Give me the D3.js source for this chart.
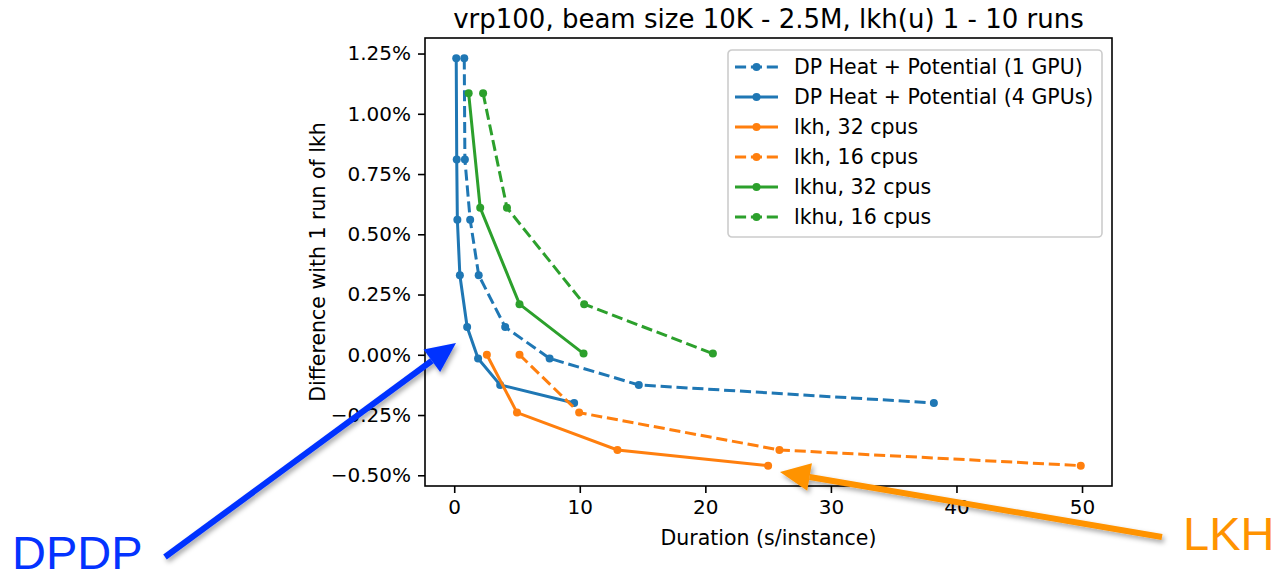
<!DOCTYPE html>
<html>
<head>
<meta charset="utf-8">
<script src="https://cdn.jsdelivr.net/npm/d3@7"></script>
<style>
  body { margin: 0; background: #fff; }
  svg { display: block; font-family: "DejaVu Sans", sans-serif; }
</style>
</head>
<body>
<svg id="chart" width="1280" height="574"></svg>
<script>
// Series (x: seconds per instance, y: % difference)
const dp1X = [0.8, 0.85, 1.27, 1.95, 4.06, 7.6, 14.7, 38.2];
const dp1Y = [1.23, 0.81, 0.56, 0.33, 0.115, -0.015, -0.125, -0.2];
const dp4X = [0.16, 0.2, 0.25, 0.45, 1.03, 1.9, 3.66, 9.55];
const dp4Y = [1.23, 0.81, 0.56, 0.33, 0.115, -0.015, -0.125, -0.2];
const lkh32X = [2.6, 5.0, 13.0, 25.0];
const lkh32Y = [0.0, -0.24, -0.395, -0.46];
const lkh16X = [5.2, 9.95, 25.9, 49.9];
const lkh16Y = [0.0, -0.24, -0.395, -0.46];
const lkhu32X = [1.15, 2.07, 5.2, 10.3];
const lkhu32Y = [1.085, 0.61, 0.21, 0.005];
const lkhu16X = [2.3, 4.2, 10.35, 20.6];
const lkhu16Y = [1.085, 0.61, 0.21, 0.005];

const xTicks = [0, 10, 20, 30, 40, 50];
const yTicks = [-0.5, -0.25, 0, 0.25, 0.5, 0.75, 1.0, 1.25];

const series = [
  { name: "DP Heat + Potential (1 GPU)", xs: dp1X, ys: dp1Y, color: "#1f77b4", dashed: true },
  { name: "DP Heat + Potential (4 GPUs)", xs: dp4X, ys: dp4Y, color: "#1f77b4", dashed: false },
  { name: "lkh, 32 cpus", xs: lkh32X, ys: lkh32Y, color: "#ff7f0e", dashed: false },
  { name: "lkh, 16 cpus", xs: lkh16X, ys: lkh16Y, color: "#ff7f0e", dashed: true },
  { name: "lkhu, 32 cpus", xs: lkhu32X, ys: lkhu32Y, color: "#2ca02c", dashed: false },
  { name: "lkhu, 16 cpus", xs: lkhu16X, ys: lkhu16Y, color: "#2ca02c", dashed: true },
];

const plot = { left: 425, right: 1112, top: 38, bottom: 486 };
const lineW = 3;
const dash = "11.1,4.8";
const dotR = 4;

// matplotlib style autoscale: data extent + 5% margins
const allX = series.flatMap(s => s.xs), allY = series.flatMap(s => s.ys);
function padded(vals) {
  const [lo, hi] = d3.extent(vals), m = (hi - lo) * 0.05;
  return [lo - m, hi + m];
}
const x = d3.scaleLinear().domain(padded(allX)).range([plot.left, plot.right]);
const y = d3.scaleLinear().domain(padded(allY)).range([plot.bottom, plot.top]);

const svg = d3.select("#chart");

const defs = svg.append("defs");
defs.append("filter").attr("id", "shadow")
  .attr("x", "-20%").attr("y", "-20%").attr("width", "140%").attr("height", "140%")
  .append("feDropShadow")
  .attr("dx", 2).attr("dy", 3).attr("stdDeviation", 2.5)
  .attr("flood-color", "#000").attr("flood-opacity", 0.35);

// Lines and markers
const line = d3.line().x(d => x(d[0])).y(d => y(d[1]));
const gData = svg.append("g");
series.forEach(s => {
  const pts = s.xs.map((v, i) => [v, s.ys[i]]);
  gData.append("path")
    .attr("d", line(pts))
    .attr("fill", "none")
    .attr("stroke", s.color)
    .attr("stroke-width", lineW)
    .attr("stroke-dasharray", s.dashed ? dash : null);
  gData.selectAll(null).data(pts).enter().append("circle")
    .attr("cx", d => x(d[0])).attr("cy", d => y(d[1]))
    .attr("r", dotR).attr("fill", s.color);
});

// Axes
const xAxis = svg.append("g")
  .attr("transform", `translate(0,${plot.bottom})`)
  .call(d3.axisBottom(x).tickValues(xTicks).tickSize(7).tickPadding(7).tickFormat(d3.format("d")));
const yAxis = svg.append("g")
  .attr("transform", `translate(${plot.left},0)`)
  .call(d3.axisLeft(y).tickValues(yTicks).tickSize(7).tickPadding(7).tickFormat(d => d3.format(".2f")(d) + "%"));
[xAxis, yAxis].forEach(a => {
  a.select(".domain").remove();
  a.selectAll(".tick line").attr("stroke", "#000").attr("stroke-width", 1.6);
  a.selectAll(".tick text").attr("fill", "#000").style("font-size", "20px")
    .style("font-family", "DejaVu Sans");
});

svg.append("rect")
  .attr("x", plot.left).attr("y", plot.top)
  .attr("width", plot.right - plot.left).attr("height", plot.bottom - plot.top)
  .attr("fill", "none").attr("stroke", "#000").attr("stroke-width", 1.6);

// Titles
svg.append("text")
  .attr("x", (plot.left + plot.right) / 2).attr("y", 28)
  .attr("text-anchor", "middle").style("font-size", "26px")
  .text("vrp100, beam size 10K - 2.5M, lkh(u) 1 - 10 runs");
svg.append("text")
  .attr("x", (plot.left + plot.right) / 2).attr("y", 545)
  .attr("text-anchor", "middle").style("font-size", "20.5px")
  .text("Duration (s/instance)");
svg.append("text")
  .attr("transform", `translate(325,${(plot.top + plot.bottom) / 2}) rotate(-90)`)
  .attr("text-anchor", "middle").style("font-size", "20.5px")
  .text("Difference with 1 run of lkh");

// Legend
const leg = svg.append("g").attr("transform", "translate(728,50)");
leg.append("rect")
  .attr("width", 374).attr("height", 187).attr("rx", 4)
  .attr("fill", "#fff").attr("fill-opacity", 0.8)
  .attr("stroke", "#cccccc").attr("stroke-width", 1.6);
series.forEach((s, i) => {
  const cy = 17 + i * 30;
  leg.append("line")
    .attr("x1", 7).attr("x2", 50).attr("y1", cy).attr("y2", cy)
    .attr("stroke", s.color).attr("stroke-width", lineW)
    .attr("stroke-dasharray", s.dashed ? dash : null);
  leg.append("circle").attr("cx", 28.5).attr("cy", cy).attr("r", dotR).attr("fill", s.color);
  leg.append("text").attr("x", 66).attr("y", cy + 7)
    .style("font-size", "20.5px").text(s.name);
});

// Annotation arrows (slide overlay)
function arrow(x1, y1, x2, y2, color, w, headLen, headHalf) {
  const a = Math.atan2(y2 - y1, x2 - x1);
  const bx = x2 - headLen * Math.cos(a), by = y2 - headLen * Math.sin(a);
  const g = svg.append("g").attr("filter", "url(#shadow)");
  g.append("line").attr("x1", x1).attr("y1", y1).attr("x2", bx).attr("y2", by)
    .attr("stroke", color).attr("stroke-width", w);
  const px = -Math.sin(a) * headHalf, py = Math.cos(a) * headHalf;
  g.append("polygon")
    .attr("points", `${x2},${y2} ${bx + px},${by + py} ${bx - px},${by - py}`)
    .attr("fill", color);
}
arrow(165, 557, 456, 343, "#0433ff", 6, 30, 14);
arrow(1162, 537, 780, 472, "#ff9300", 6, 30, 14);

svg.append("text").attr("x", 12).attr("y", 569)
  .style("font-family", "Liberation Sans").style("font-size", "47px")
  .attr("fill", "#0433ff").text("DPDP");
svg.append("text").attr("x", 1183).attr("y", 550)
  .style("font-family", "Liberation Sans").style("font-size", "47px")
  .attr("fill", "#ff9300").text("LKH");
</script>
</body>
</html>
